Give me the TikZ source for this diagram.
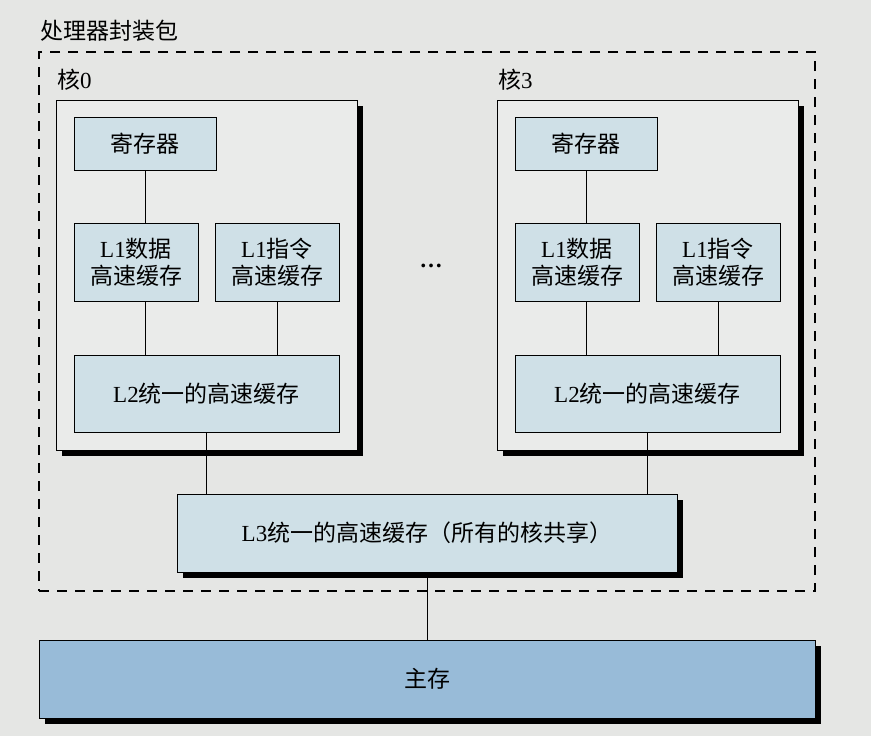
\documentclass[tikz,border=0pt]{standalone}
\usepackage{fontspec}
\setmainfont{Liberation Serif}
\newfontfamily\zhfont{Noto Sans CJK SC}
\usetikzlibrary{shadows}
\definecolor{paper}{HTML}{E5E6E4}
\definecolor{corebg}{HTML}{EAEBEA}
\definecolor{cachebl}{HTML}{CFE0E7}
\definecolor{membl}{HTML}{98BBD8}
\begin{document}
\begin{tikzpicture}[x=1pt,y=-1pt,
  font=\fontsize{23}{27}\selectfont,
  box/.style={rectangle,draw=black,line width=0.9pt,inner sep=0pt,align=center},
  cache/.style={box,fill=cachebl},
  heavy/.style={drop shadow={shadow xshift=6pt,shadow yshift=-6pt,fill=black,opacity=1}},
  core/.style={box,fill=corebg,heavy,minimum width=301pt,minimum height=350pt},
  wire/.style={line width=0.8pt}]
\fill[paper] (0,0) rectangle (871,736);
\useasboundingbox (0,0) rectangle (871,736);

\node[box,dashed,dash pattern=on 10pt off 8pt,line width=1.4pt,minimum width=776pt,minimum height=539pt] (pkg) at (427,321.5) {};
\node[anchor=west,inner sep=0pt] (pkgname) at (40,31) {\zhfont 处理器封装包};

% core 0
\node[core] (core0) at (206.5,275) {};
\node[anchor=west,inner sep=0pt] (name0) at (57,80) {{\zhfont 核}0};
\node[cache,minimum width=142pt,minimum height=53pt] (reg0) at (145,143.5) {\zhfont 寄存器};
\node[cache,minimum width=124pt,minimum height=78pt] (l1d0) at (136,262) {L1{\zhfont 数据}\\{\zhfont 高速缓存}};
\node[cache,minimum width=124pt,minimum height=78pt] (l1i0) at (277,262) {L1{\zhfont 指令}\\{\zhfont 高速缓存}};
\node[cache,minimum width=265pt,minimum height=77pt] (l2c0) at (206.5,393.5) {L2{\zhfont 统一的高速缓存}};

% core 3
\node[core] (core3) at (647.5,275) {};
\node[anchor=west,inner sep=0pt] (name3) at (498,80) {{\zhfont 核}3};
\node[cache,minimum width=142pt,minimum height=53pt] (reg3) at (586,143.5) {\zhfont 寄存器};
\node[cache,minimum width=124pt,minimum height=78pt] (l1d3) at (577,262) {L1{\zhfont 数据}\\{\zhfont 高速缓存}};
\node[cache,minimum width=124pt,minimum height=78pt] (l1i3) at (718,262) {L1{\zhfont 指令}\\{\zhfont 高速缓存}};
\node[cache,minimum width=265pt,minimum height=77pt] (l2c3) at (647.5,393.5) {L2{\zhfont 统一的高速缓存}};

\node[inner sep=0pt] (dots) at (431,266) {\textbf{\ldots}};

% shared
\node[cache,heavy,minimum width=500pt,minimum height=78pt] (l3c) at (427,533) {L3{\zhfont 统一的高速缓存（所有的核共享）}};
\node[box,fill=membl,heavy,minimum width=776pt,minimum height=78pt] (mem) at (427,679) {\zhfont 主存};

\foreach \c in {0,3}{
  \draw[wire] (reg\c.south) -- (reg\c.south |- l1d\c.north);
  \draw[wire] (reg\c.south |- l1d\c.south) -- (reg\c.south |- l2c\c.north);
  \draw[wire] (l1i\c.south) -- (l1i\c.south |- l2c\c.north);
  \draw[wire] (l2c\c.south) -- (l2c\c.south |- l3c.north);
}
\draw[wire] (l3c.south) -- (mem.north);
\end{tikzpicture}
\end{document}
